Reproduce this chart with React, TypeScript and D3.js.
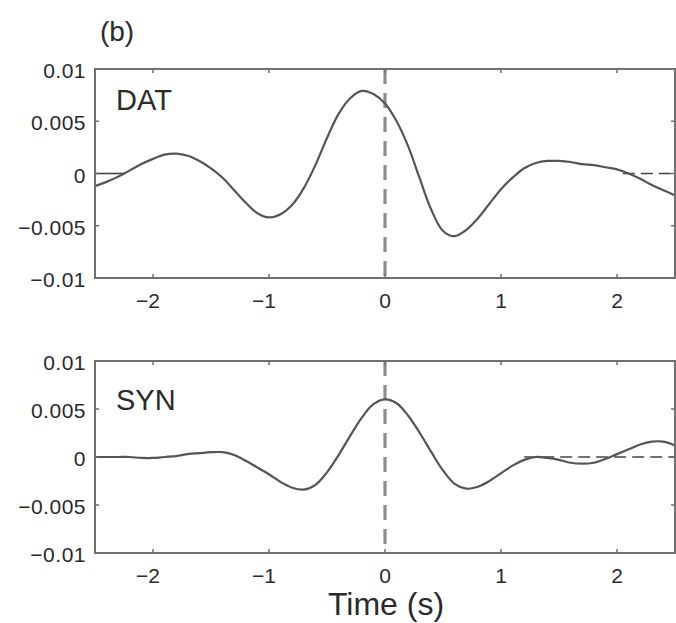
import React from "react";
import * as d3 from "d3";

const W = 676;
const H = 623;

// Time samples (s)
const TIMES = [
  -2.5, -2.4, -2.3, -2.2, -2.1, -2.0, -1.9, -1.8, -1.7, -1.6, -1.5, -1.4, -1.3, -1.2, -1.1, -1.0,
  -0.9, -0.8, -0.7, -0.6, -0.5, -0.4, -0.3, -0.2, -0.1, 0.0, 0.1, 0.2, 0.3, 0.4, 0.5, 0.6, 0.7,
  0.8, 0.9, 1.0, 1.1, 1.2, 1.3, 1.4, 1.5, 1.6, 1.7, 1.8, 1.9, 2.0, 2.1, 2.2, 2.3, 2.4, 2.5,
];

const DAT = [
  -0.0012, -0.0008, -0.0003, 0.0003, 0.0009, 0.0014, 0.0018, 0.0019, 0.0017, 0.0012, 0.0005,
  -0.0004, -0.0016, -0.0028, -0.0038, -0.0042, -0.0039, -0.003, -0.0014, 0.0008, 0.0034, 0.0057,
  0.0072, 0.0079, 0.0076, 0.0067, 0.005, 0.0026, -0.0005, -0.0035, -0.0055, -0.006, -0.0054,
  -0.0043, -0.0029, -0.0015, -0.0004, 0.0005, 0.001, 0.0012, 0.0012, 0.0011, 0.0009, 0.0008,
  0.0006, 0.0004, 0.0, -0.0005, -0.0011, -0.0016, -0.0021,
];

const SYN = [
  0.0, 0.0, 0.0, 0.0, -0.0001, -0.0001, 0.0, 0.0001, 0.0003, 0.0004, 0.0005, 0.0005, 0.0002,
  -0.0004, -0.0011, -0.0018, -0.0026, -0.0032, -0.0034, -0.0029, -0.0016, 0.0002, 0.0022, 0.0041,
  0.0055, 0.006, 0.0056, 0.0043, 0.0025, 0.0005, -0.0014, -0.0028, -0.0033, -0.0031, -0.0025,
  -0.0017, -0.0009, -0.0003, 0.0, -0.0001, -0.0003, -0.0006, -0.0007, -0.0006, -0.0002, 0.0003,
  0.0008, 0.0013, 0.0016, 0.0016, 0.0012,
];

// zero-reference trace segments (time ranges)
const DAT_ZERO_SOLID = [-2.5, -2.25];
const DAT_ZERO_DASHED = [2.05, 2.5];
const SYN_ZERO_SOLID = [-2.5, -2.38];
const SYN_ZERO_DASHED = [1.2, 2.5];

const X_TICKS = [-2, -1, 0, 1, 2];
const Y_TICKS = [0.01, 0.005, 0, -0.005, -0.01];
const Y_TICK_LABELS = ["0.01", "0.005", "0", "\u22120.005", "\u22120.01"];
const X_TICK_LABELS = ["\u22122", "\u22121", "0", "1", "2"];

const FONT = "'Liberation Sans', Arial, Helvetica, sans-serif";
const FRAME = "#707070";
const TEXT = "#2a2a2a";

type PanelProps = {
  top: number;
  bottom: number;
  values: number[];
  label: string;
  labelBaseline: number;
  zeroSolid: number[];
  zeroDashed: number[];
};

const x = d3.scaleLinear().domain([-2.5, 2.5]).range([95, 675]);

function Panel({ top, bottom, values, label, labelBaseline, zeroSolid, zeroDashed }: PanelProps) {
  const y = d3.scaleLinear().domain([-0.01, 0.01]).range([bottom, top]);
  const line = d3
    .line<number>()
    .x((_, i) => x(TIMES[i]))
    .y((d) => y(d))
    .curve(d3.curveCatmullRom.alpha(0.5));
  const tickLen = 4;
  return (
    <g>
      <line
        x1={x(zeroSolid[0])}
        x2={x(zeroSolid[1])}
        y1={y(0)}
        y2={y(0)}
        stroke="#444"
        strokeWidth={1.6}
      />
      <line
        x1={x(zeroDashed[0])}
        x2={x(zeroDashed[1])}
        y1={y(0)}
        y2={y(0)}
        stroke="#444"
        strokeWidth={1.5}
        strokeDasharray="12,6"
      />
      <line
        x1={x(0)}
        x2={x(0)}
        y1={top}
        y2={bottom}
        stroke="#8c8c8c"
        strokeWidth={3.2}
        strokeDasharray="15,9"
      />
      <path d={line(values) || ""} fill="none" stroke="#555" strokeWidth={2.2} />
      <rect
        x={x(-2.5)}
        y={top}
        width={x(2.5) - x(-2.5)}
        height={bottom - top}
        fill="none"
        stroke={FRAME}
        strokeWidth={2}
      />
      {X_TICKS.map((t, i) => (
        <g key={"xt" + i}>
          <line x1={x(t)} x2={x(t)} y1={bottom} y2={bottom - tickLen} stroke={FRAME} strokeWidth={1.5} />
          <line x1={x(t)} x2={x(t)} y1={top} y2={top + tickLen} stroke={FRAME} strokeWidth={1.5} />
          <text
            x={x(t) + (t < 0 ? -5 : 0)}
            y={bottom + 30}
            textAnchor="middle"
            fontFamily={FONT}
            fontSize={21}
            fill={TEXT}
          >
            {X_TICK_LABELS[i]}
          </text>
        </g>
      ))}
      {Y_TICKS.map((v, i) => (
        <g key={"yt" + i}>
          <line x1={x(-2.5)} x2={x(-2.5) + tickLen} y1={y(v)} y2={y(v)} stroke={FRAME} strokeWidth={1.5} />
          <line x1={x(2.5)} x2={x(2.5) - tickLen} y1={y(v)} y2={y(v)} stroke={FRAME} strokeWidth={1.5} />
          <text
            x={86}
            y={y(v) + 9}
            textAnchor="end"
            fontFamily={FONT}
            fontSize={21}
            letterSpacing={0.5}
            fill={TEXT}
          >
            {Y_TICK_LABELS[i]}
          </text>
        </g>
      ))}
      <text x={116} y={labelBaseline} fontFamily={FONT} fontSize={29} fill={TEXT}>
        {label}
      </text>
    </g>
  );
}

export default function App() {
  return (
    <svg
      width={W}
      height={H}
      viewBox={`0 0 ${W} ${H}`}
      style={{ position: "absolute", left: 0, top: 0, background: "#fff" }}
    >
      <rect x={0} y={0} width={W} height={H} fill="#fff" />
      <text x={117} y={41} textAnchor="middle" fontFamily={FONT} fontSize={28} fill={TEXT}>
        (b)
      </text>
      <Panel
        top={69}
        bottom={278}
        values={DAT}
        label="DAT"
        labelBaseline={110}
        zeroSolid={DAT_ZERO_SOLID}
        zeroDashed={DAT_ZERO_DASHED}
      />
      <Panel
        top={361}
        bottom={553}
        values={SYN}
        label="SYN"
        labelBaseline={410}
        zeroSolid={SYN_ZERO_SOLID}
        zeroDashed={SYN_ZERO_DASHED}
      />
      <text x={386} y={615} textAnchor="middle" fontFamily={FONT} fontSize={32} fill={TEXT}>
        Time (s)
      </text>
    </svg>
  );
}
